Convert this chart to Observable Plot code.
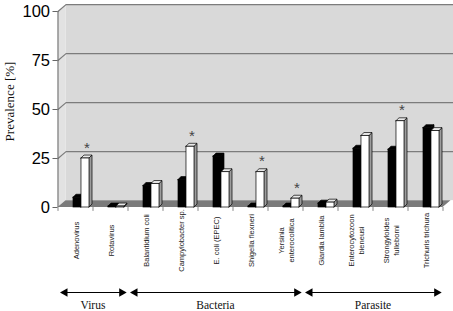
<!DOCTYPE html>
<html>
<head>
<meta charset="utf-8">
<script src="https://cdn.jsdelivr.net/npm/d3@7"></script>
<script src="https://cdn.jsdelivr.net/npm/@observablehq/plot@0.6"></script>
<style>
  html, body { margin: 0; padding: 0; background: #fff; }
  #chart { width: 453px; height: 311px; }
</style>
</head>
<body>
<div id="chart"></div>
<script>
// ---- data ----
const categories = ["Adenovirus", "Rotavirus", "Balantidium coli", "Campylobacter sp.", "E. coli (EPEC)",
  "Shigella flexneri", "Yersinia\nenterocolitica", "Giardia lamblia", "Enterocytozoon\nbieneusi",
  "Strongyloides\nfulleborni", "Trichuris trichura"];
const blackValues = [5, 0.5, 11, 14, 26, 0.5, 0.5, 2, 30, 29.5, 40.5];
const whiteValues = [25, 0.5, 12, 31, 18, 18, 4.5, 2.5, 36.5, 44, 39];
const significant = [true, false, false, true, false, true, true, false, false, true, false];
const yTicks = [0, 25, 50, 75, 100];
const groups = ["Virus", "Bacteria", "Parasite"];
const groupFirst = [0, 2, 7];
const groupLast = [1, 6, 10];
const yLabel = "Prevalence [%]";

// ---- 3D styling constants ----
const DX = 0.229, DY = 3.5;   // floor / wall depth
const d = 0.086, h = 1.5;     // bar depth
const idx = categories.map((_, i) => i);

function faces(vals, a, b) {
  const front = [], top = [], side = [];
  vals.forEach((v, i) => {
    const x1 = i + a, x2 = i + b;
    front.push({k: i, x1, x2, y1: 0, y2: v});
    top.push({k: i, x: x1, y1: v, y2: v}, {k: i, x: x1 + d, y1: v, y2: v + h},
             {k: i, x: x2, y1: v, y2: v + h}, {k: i, x: x2 + d, y1: v + h, y2: v + h});
    side.push({k: i, x: x2, y1: 0, y2: v}, {k: i, x: x2 + d, y1: h, y2: v + h});
  });
  return {front, top, side};
}
const B = faces(blackValues, -0.057, 0.171);
const W = faces(whiteValues, 0.171, 0.4);

function boxMarks(F, frontFill, topFill, sideFill) {
  const st = {stroke: "#000", strokeWidth: 0.7};
  return [
    Plot.areaY(F.side, {x: "x", y1: "y1", y2: "y2", z: "k", fill: sideFill, ...st}),
    Plot.areaY(F.top, {x: "x", y1: "y1", y2: "y2", z: "k", fill: topFill, ...st}),
    Plot.rect(F.front, {x1: "x1", x2: "x2", y1: "y1", y2: "y2", fill: frontFill, ...st})
  ];
}

const gridPts = yTicks.filter(v => v > 0).flatMap(v => [
  {v, x: -0.5, y: v}, {v, x: -0.5 + DX, y: v + DY}, {v, x: 10.8, y: v + DY}
]);
const boundaries = d3.range(categories.length + 1).map(i => i - 0.5);

const chart = Plot.plot({
  width: 453,
  height: 311,
  marginLeft: 57.5,
  marginRight: 10.5,
  marginTop: 11,
  marginBottom: 104,
  style: {fontFamily: "Liberation Sans, Arial, sans-serif", background: "#fff"},
  x: {type: "linear", domain: [-0.5, 10.5], axis: null},
  y: {domain: [0, 100], axis: null},
  marks: [
    // back wall
    Plot.rect([0], {x1: -0.5 + DX, x2: 10.8, y1: DY, y2: 100 + DY, fill: "#d9d9d9"}),
    // left wall
    Plot.areaY([{x: -0.5, y1: 0, y2: 100}, {x: -0.5 + DX, y1: DY, y2: 100 + DY}],
      {x: "x", y1: "y1", y2: "y2", fill: "#e2e2e2"}),
    // gridlines
    Plot.line(gridPts, {x: "x", y: "y", z: "v", stroke: "#7c7c7c", strokeWidth: 1.2}),
    // floor
    Plot.areaY([{x: -0.5, y1: 0, y2: 0}, {x: -0.5 + DX, y1: 0, y2: DY},
                {x: 10.5, y1: 0, y2: DY}, {x: 10.5 + DX, y1: DY, y2: DY}],
      {x: "x", y1: "y1", y2: "y2", fill: "#7a7a7a"}),
    // axis line & category separators
    Plot.ruleX([-0.5], {y1: 0, y2: 100, stroke: "#666"}),
    Plot.ruleX(boundaries, {y1: 0, y2: -2, stroke: "#888"}),
    Plot.axisY({ticks: yTicks, tickSize: 5, tickPadding: 3, fontSize: 16.5, label: null, stroke: "#666", fill: "#000"}),
    // bars
    ...boxMarks(B, "#000", "#000", "#000"),
    ...boxMarks(W, "#fff", "#e9e9e9", "#9c9c9c"),
    // significance asterisks
    Plot.text(idx.filter(i => significant[i]), {
      x: i => i + 0.285 + d / 2, y: i => whiteValues[i] + h, text: () => "*",
      dy: -3, fontSize: 15, fill: "#444", lineAnchor: "bottom"
    }),
    // category labels
    Plot.text(idx, {
      x: i => i, y: 0, text: i => categories[i], rotate: -90, dy: 33,
      textAnchor: "middle", lineAnchor: "middle", lineHeight: 1.4, fontSize: 7.5, fill: "#222"
    }),
    // y label
    Plot.text([yLabel], {
      frameAnchor: "left", text: t => t, dx: -48, dy: -8, rotate: -90, textAnchor: "middle",
      fontFamily: "Liberation Serif, Times New Roman, serif", fontSize: 13, fill: "#111"
    }),
    // group arrows
    Plot.link(groups, {
      x1: (g, i) => groupFirst[i] - 0.5 + 0.12, x2: (g, i) => groupLast[i] + 0.5 - 0.1,
      y1: 0, y2: 0, dy: 85, stroke: "#000", strokeWidth: 1.2
    }),
    Plot.dot(groups, {x: (g, i) => groupFirst[i] - 0.5 + 0.2, y: 0, dy: 85, symbol: "triangle", rotate: -90, r: 3.2, fill: "#000"}),
    Plot.dot(groups, {x: (g, i) => groupLast[i] + 0.5 - 0.18, y: 0, dy: 85, symbol: "triangle", rotate: 90, r: 3.2, fill: "#000"}),
    Plot.text(groups, {
      x: (g, i) => (groupFirst[i] + groupLast[i]) / 2, y: 0, dy: 98, text: g => g,
      fontFamily: "Liberation Serif, Times New Roman, serif", fontSize: 11.5, fill: "#111"
    })
  ]
});
document.getElementById("chart").appendChild(chart);
</script>
</body>
</html>
